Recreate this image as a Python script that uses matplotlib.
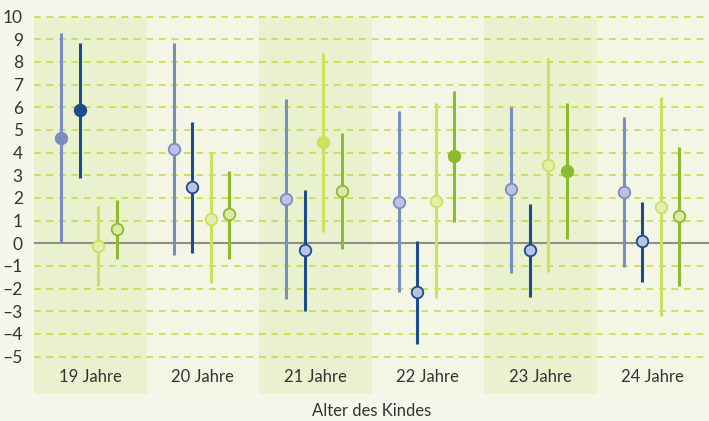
import matplotlib
matplotlib.use("Agg")
import matplotlib.pyplot as plt

plt.rcParams['font.family'] = ['Lato', 'DejaVu Sans']
plt.rcParams['axes.unicode_minus'] = False

# data
groups = ["19 Jahre", "20 Jahre", "21 Jahre", "22 Jahre", "23 Jahre", "24 Jahre"]

s1_mid = [4.65, 4.15, 1.97, 1.83, 2.39, 2.25]
s1_low = [0.03, -0.53, -2.45, -2.17, -1.29, -1.03]
s1_high = [9.27, 8.85, 6.38, 5.85, 6.03, 5.55]
s1_filled = [True, False, False, False, False, False]

s2_mid = [5.88, 2.47, -0.31, -2.17, -0.29, 0.08]
s2_low = [2.87, -0.44, -2.97, -4.45, -2.35, -1.69]
s2_high = [8.85, 5.37, 2.36, 0.10, 1.74, 1.83]
s2_filled = [True, False, False, False, False, False]

s3_mid = [-0.11, 1.09, 4.46, 1.87, 3.46, 1.62]
s3_low = [-1.88, -1.76, 0.49, -2.42, -1.25, -3.23]
s3_high = [1.65, 3.97, 8.41, 6.18, 8.16, 6.44]
s3_filled = [False, False, True, False, False, False]

s4_mid = [0.62, 1.27, 2.31, 3.87, 3.19, 1.21]
s4_low = [-0.70, -0.70, -0.25, 0.96, 0.18, -1.87]
s4_high = [1.91, 3.21, 4.86, 6.74, 6.21, 4.24]
s4_filled = [False, False, False, True, True, False]

series = [
    (s1_mid, s1_low, s1_high, s1_filled, "#7b8cc0", "#b9c3e2", -0.257),
    (s2_mid, s2_low, s2_high, s2_filled, "#1b4d8d", "#b9c3e2", -0.094),
    (s3_mid, s3_low, s3_high, s3_filled, "#cfe05c", "#e3edae", 0.070),
    (s4_mid, s4_low, s4_high, s4_filled, "#8cbb30", "#dde9aa", 0.234),
]

fig = plt.figure(figsize=(7.09, 4.21), dpi=100, facecolor="#f5f7ea")
ax = fig.add_axes([34 / 709, 27 / 421, 675 / 709, 378.5 / 421])
ax.set_facecolor("#f3f6e4")

ax.set_xlim(-0.5, len(groups) - 0.5)
ax.set_ylim(-6.65, 10.05)

# shaded bands for every second group
for i in range(0, len(groups), 2):
    ax.axvspan(i - 0.5, i + 0.5, ymax=(10 + 6.65) / 16.7, color="#e9f1cf", zorder=0, lw=0)

# grid
for y in range(-5, 11):
    if y == 0:
        ax.axhline(0, color="#8f9085", lw=1.5, zorder=1)
    else:
        ax.axhline(y, color="#c6dc45", lw=1.2, ls=(0, (4, 3.5)), zorder=1)

for mid, low, high, filled, col, pale, off in series:
    for i in range(len(groups)):
        x = i + off
        ax.plot([x, x], [low[i], high[i]], color=col, lw=2.2, solid_capstyle="butt", zorder=2)
        face = col if filled[i] else pale
        ax.plot(x, mid[i], "o", ms=8.3, mfc=face, mec=col, mew=1.3, zorder=3)

for i, g in enumerate(groups):
    ax.text(i, -5.92, g, ha="center", va="center", fontsize=12, color="#333333")

ax.set_yticks(range(-5, 11))
ax.set_yticklabels([str(v).replace("-", "–") for v in range(-5, 11)])
ax.tick_params(axis="y", length=0, pad=8, labelsize=12.5, labelcolor="#333333")
ax.set_xticks([])
for sp in ax.spines.values():
    sp.set_visible(False)

fig.text(371.5 / 709, 1 - 411.5 / 421, "Alter des Kindes", ha="center", va="center",
         fontsize=12, color="#333333")

fig.savefig("out.png", dpi=100, facecolor=fig.get_facecolor())
